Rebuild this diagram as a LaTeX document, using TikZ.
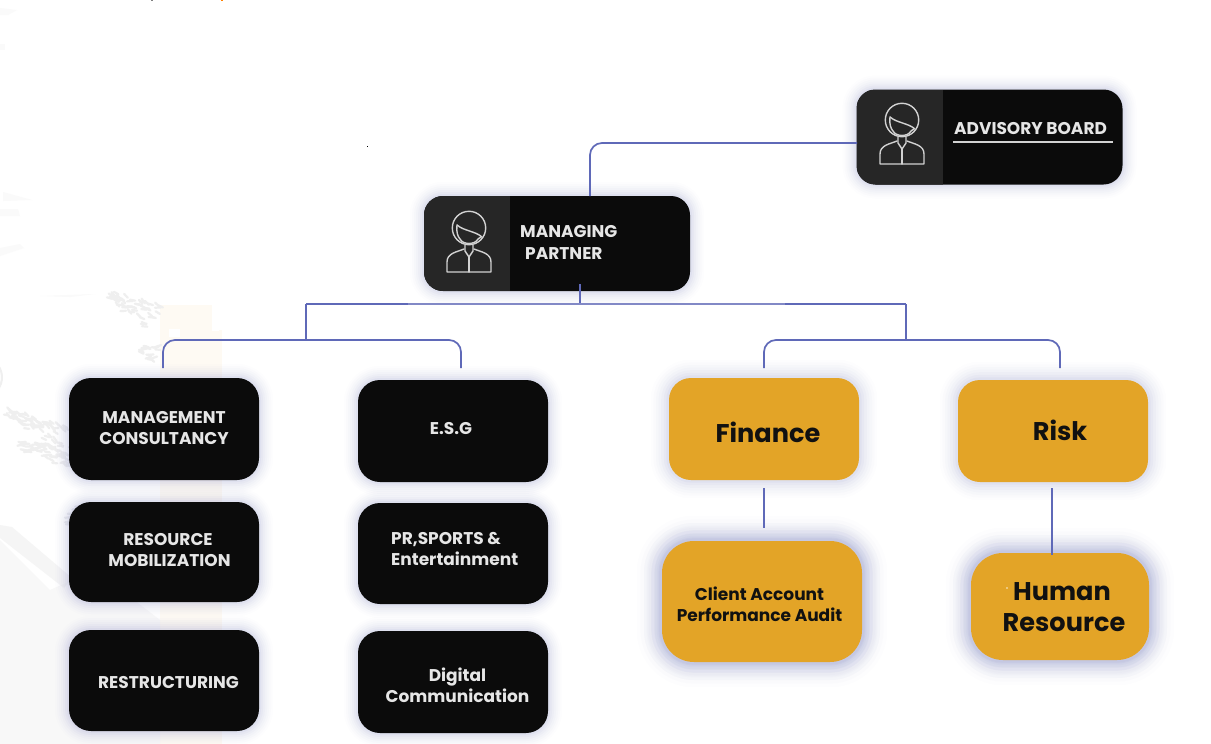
\documentclass[tikz,border=0pt]{standalone}
\usepackage{fontspec}
\setmainfont{Poppins}
\definecolor{linkc}{HTML}{5F69B8}
\definecolor{linkpale}{HTML}{8289C6}
\definecolor{boxdark}{HTML}{0B0B0B}
\definecolor{panelc}{HTML}{262626}
\definecolor{boxgold}{HTML}{E3A427}
\definecolor{glowc}{HTML}{5A64B8}
\definecolor{inklight}{HTML}{E6E6E6}
\definecolor{inkdark}{HTML}{111111}
\definecolor{iconc}{HTML}{D2D2D2}
\definecolor{creamc}{HTML}{FEFAF3}
\definecolor{treec}{HTML}{EFEFEF}
\definecolor{treepale}{HTML}{F8F8F8}
\definecolor{specklec}{HTML}{FAFAFA}
\tikzset{
  x=1pt,y=-1pt,
  softglow/.style={
    preaction={draw=glowc,draw opacity=.012,line width=#1*2.8pt},
    preaction={draw=glowc,draw opacity=.014,line width=#1*2.4pt},
    preaction={draw=glowc,draw opacity=.018,line width=#1*2.0pt},
    preaction={draw=glowc,draw opacity=.022,line width=#1*1.6pt},
    preaction={draw=glowc,draw opacity=.03,line width=#1*1.2pt},
    preaction={draw=glowc,draw opacity=.04,line width=#1*.8pt},
    preaction={draw=glowc,draw opacity=.05,line width=#1*.4pt}},
  plainbox/.style={rectangle,inner sep=0pt,outer sep=0pt},
  darkbox/.style={plainbox,fill=boxdark,rounded corners=22pt,softglow=10,minimum width=190pt},
  goldbox/.style={plainbox,fill=boxgold,rounded corners=22pt,softglow=13},
  roundgold/.style={goldbox,rounded corners=32pt,softglow=18},
  rolebox/.style={plainbox,fill=boxdark,rounded corners=19pt,softglow=10,minimum width=266pt,minimum height=95pt,
    path picture={\fill[panelc,sharp corners] (path picture bounding box.south west) rectangle ([xshift=86pt]path picture bounding box.north west);}},
  lighttext/.style={text=inklight,font=\fontsize{17}{21}\selectfont\bfseries,align=center,inner sep=0pt},
  goldtext/.style={text=inkdark,font=\fontsize{25.6}{31}\selectfont\bfseries,align=center,inner sep=0pt},
  link/.style={draw=linkc,line width=1.7pt,rounded corners=12pt},
  straightlink/.style={draw=linkc,line width=1.7pt},
  palelink/.style={draw=linkpale,line width=1.7pt},
  iconline/.style={draw=iconc,line width=1.4pt,line join=round,line cap=round},
  person/.pic={
    \draw[iconline] (0,0) circle (16.7);
    \draw[iconline] (-12,-3) .. controls (-5,3) and (6,3) .. (13,9);
    \draw[iconline] (-12,-3) .. controls (-13,4) and (-11,9) .. (-9,11) .. controls (-6,17) and (6,17) .. (9,11) -- (12,9);
    \draw[iconline] (-4,17) -- (-4,23) -- (0,29) -- (4,23) -- (4,17);
    \draw[iconline] (-5,21) .. controls (-12,24) and (-22,25) .. (-22,34) -- (-22,44) -- (22,44) -- (22,34) .. controls (22,25) and (12,24) .. (5,21);
    \draw[iconline] (0,29) -- (0,44);
  }
}
% one spray of foliage along a branch: a tapering cloud of small leaves
\newcommand{\frond}[4]{%
  \begin{scope}[shift={(#1,#2)},rotate=#3]
    \foreach \s in {0,2,...,#4}{
      \pgfmathsetmacro{\spread}{4+10*(1-\s/(#4+1))}
      \pgfmathsetmacro{\off}{\spread*rand}
      \draw[treec,line width=2.2pt,line cap=round] (\s,\off) -- ++(5,3*rand);
      \pgfmathsetmacro{\off}{\spread*rand}
      \draw[treec,line width=2.2pt,line cap=round] (\s,\off) -- ++(5,3*rand);
    }
  \end{scope}}
\begin{document}
\begin{tikzpicture}
\pgfmathsetseed{4711}
\useasboundingbox (0,0) rectangle (1211,744);
\fill[white] (0,0) rectangle (1211,744);

% faded photograph behind the lower left corner
\fill[creamc] (160,305) rectangle (212,744);
\fill[creamc] (160,330) rectangle (222,744);
\fill[white] (169,329) rectangle (180,337);
\fill[white] (212,305) rectangle (219,331);
\fill[treepale] (0,540) -- (50,590) -- (95,570) -- (160,620) -- (160,744) -- (0,744) -- cycle;
\fill[treec,opacity=.6] (0,525) -- (12,527) -- (72,578) -- (64,588) -- (0,538) -- cycle;
\frond{158}{318}{155}{50}
\frond{160}{352}{170}{16}
\frond{66}{440}{155}{62}
\frond{100}{466}{165}{80}
\frond{90}{512}{205}{22}
\draw[treec,line width=2pt] (-8,360) arc[start angle=-60,end angle=60,radius=20];
\fill[specklec] (0,8) -- (17,10) -- (8,15) -- (0,15) -- cycle;
\fill[specklec] (0,44) -- (5,44) -- (5,50) -- (0,50) -- cycle;
\fill[specklec] (3,192) -- (32,200) -- (3,201) -- cycle;
\fill[specklec] (0,209) -- (18,209) -- (20,216) -- (0,216) -- cycle;
\fill[specklec] (0,248) -- (20,244) -- (24,248) -- (0,256) -- cycle;
\fill[specklec] (40,296) -- (95,294) -- (70,297) -- cycle;
% stray marks
\fill[gray] (151,0) rectangle (153,1);
\fill[orange] (221,0) rectangle (223,1);
\fill[black] (367,146) rectangle (368,147);

% roles with a portrait panel
\node[rolebox] (ab) at (989.5,137) {};
\node[rolebox] (mp) at (557,243.5) {};
\pic at (902,120) {person};
\pic at (469,228) {person};
\node[lighttext,anchor=west] (abt) at (954,128.5) {ADVISORY BOARD};
\draw[draw=iconc,line width=1.6pt] (953,142) -- (1113,142);
\node[lighttext,anchor=west] (mpt1) at (520,231.5) {MANAGING};
\node[lighttext,anchor=west] (mpt2) at (525,253.5) {PARTNER};

% practice groups
\node[darkbox,minimum height=102pt] (mc) at (164,429) {};
\node[darkbox,minimum height=100pt] (rm) at (164,552) {};
\node[darkbox,minimum height=101pt] (rs) at (164,680.5) {};
\node[darkbox,minimum height=102pt] (es) at (453,431) {};
\node[darkbox,minimum height=101pt] (pr) at (453,553.5) {};
\node[darkbox,minimum height=102pt] (dc) at (453,682) {};
\node[goldbox,minimum width=190pt,minimum height=102pt] (fi) at (764,429) {};
\node[goldbox,minimum width=190pt,minimum height=102pt] (ri) at (1053,431) {};
\node[roundgold,minimum width=200pt,minimum height=121pt] (ca) at (762,601.5) {};
\node[roundgold,minimum width=178pt,minimum height=107pt] (hr) at (1060,606.5) {};

\node[lighttext] (mct) at (164,428.5) {MANAGEMENT\\CONSULTANCY};
\node[lighttext] (rmt) at (169.5,550) {\hspace*{-3pt}RESOURCE\\MOBILIZATION};
\node[lighttext] (rst) at (168.5,682.5) {RESTRUCTURING};
\node[lighttext] (est) at (451,428.5) {E.S.G};
\node[lighttext,align=left,anchor=west] (prt) at (391,548.5) {PR,SPORTS \&\\Entertainment};
\node[lighttext] (dct) at (457.5,685) {Digital\\Communication};
\node[goldtext] (fit) at (768,432) {Finance};
\node[goldtext] (rit) at (1060,430) {Risk};
\node[goldtext,font=\fontsize{17}{21}\selectfont\bfseries] (cat) at (759.5,604.5) {Client Account\\Performance Audit};
\node[goldtext] (hrt) at (1064,607) {\hspace*{-4pt}Human\\Resource};
\fill[boxgold!60!white] (1006,587) rectangle (1008,589);

% reporting lines
\coordinate (abOut) at (857,143);
\coordinate (mpIn) at (590,196);
\coordinate (mpOut) at (580,284);
\coordinate (busMid) at (580,305);
\coordinate (busL) at (306,304);
\coordinate (busLa) at (408,304);
\coordinate (busRa) at (785,304);
\coordinate (busR) at (906,304);
\coordinate (forkL) at (306,340);
\coordinate (forkR) at (906,340);
\coordinate (mcIn) at (163,368);
\coordinate (esIn) at (461,368);
\coordinate (fiIn) at (764,368);
\coordinate (riIn) at (1060,368);
\coordinate (fiOut) at (764,488);
\coordinate (caIn) at (764,528);
\coordinate (riOut) at (1052,488);
\coordinate (hrIn) at (1052,555);

\draw[link] (abOut) -- (mpIn |- abOut) -- (mpIn);
\draw[straightlink] (mpOut) -- (busMid);
\draw[straightlink] (busL) -- (busLa);
\draw[straightlink] (busRa) -- (busR);
\draw[palelink] (busLa) -- (busRa);
\draw[straightlink] (busL) -- (forkL);
\draw[straightlink] (busR) -- (forkR);
\draw[link] (mcIn) -- (mcIn |- forkL) -- (esIn |- forkL) -- (esIn);
\draw[link] (fiIn) -- (fiIn |- forkR) -- (riIn |- forkR) -- (riIn);
\draw[straightlink] (fiOut) -- (caIn);
\draw[straightlink] (riOut) -- (hrIn);
\end{tikzpicture}
\end{document}
